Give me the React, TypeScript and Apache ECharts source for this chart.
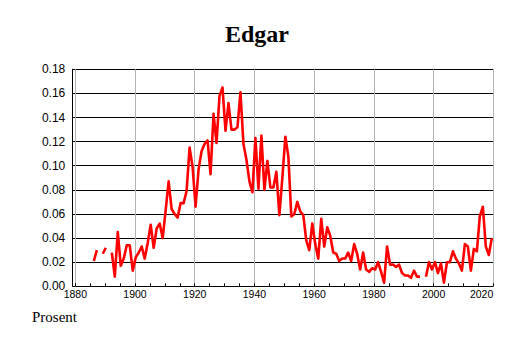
import React, { useEffect, useRef } from "react";
import * as echarts from "echarts";

const TITLE = "Edgar";
const UNIT_LABEL = "Prosent";
const START_YEAR = 1886;
// share (%) per year, null = no data
const VALUES: (number | null)[] = [
  0.021, 0.030, null, 0.027, 0.032, null, 0.028, 0.008, 0.045, 0.017,
  0.023, 0.034, 0.034, 0.013, 0.024, 0.028, 0.033, 0.023, 0.036, 0.051,
  0.032, 0.048, 0.052, 0.040, 0.063, 0.087, 0.064, 0.060, 0.057, 0.069,
  0.069, 0.079, 0.115, 0.099, 0.066, 0.097, 0.112, 0.118, 0.121, 0.093,
  0.143, 0.119, 0.158, 0.165, 0.129, 0.152, 0.130, 0.130, 0.132, 0.161,
  0.118, 0.105, 0.087, 0.078, 0.123, 0.081, 0.125, 0.080, 0.104, 0.082,
  0.082, 0.095, 0.059, 0.090, 0.124, 0.108, 0.058, 0.060, 0.070, 0.062,
  0.059, 0.038, 0.030, 0.052, 0.035, 0.023, 0.056, 0.033, 0.049, 0.042,
  0.028, 0.027, 0.021, 0.023, 0.023, 0.028, 0.021, 0.035, 0.027, 0.014,
  0.028, 0.014, 0.012, 0.015, 0.014, 0.020, 0.012, 0.003, 0.033, 0.018,
  0.018, 0.016, 0.018, 0.011, 0.009, 0.009, 0.007, 0.013, 0.008, 0.008,
  null, 0.008, 0.020, 0.014, 0.020, 0.011, 0.019, 0.003, 0.020, 0.020,
  0.029, 0.023, 0.019, 0.013, 0.035, 0.033, 0.013, 0.031, 0.029, 0.058,
  0.066, 0.033, 0.026, 0.040,
];
const X_TICK_MIN = 1880;
const X_TICK_MAX = 2020;
const X_TICK_STEP = 20;
const Y_MAX = 0.18;
const Y_STEP = 0.02;

export default function App() {
  const ref = useRef<HTMLDivElement>(null);
  useEffect(() => {
    document.body.style.margin = "0";
    if (!ref.current) return;
    const chart = echarts.init(ref.current, undefined, { renderer: "svg" });
    const data = VALUES.map((v, i) => [START_YEAR + i, v]);
    const gridPos = { top: 69.3, bottom: 56.7, right: 20.7 };
    chart.setOption({
      animation: false,
      backgroundColor: "#fff",
      title: {
        text: TITLE,
        left: "center",
        top: 17,
        textStyle: {
          fontFamily: "Liberation Serif",
          fontWeight: "bold",
          fontSize: 24,
          color: "#000",
        },
      },
      graphic: [
        {
          type: "text",
          left: 32,
          top: 309,
          style: {
            text: UNIT_LABEL,
            font: "15px 'Liberation Serif'",
            fill: "#000",
          },
        },
      ],
      grid: [
        { left: 72.3, ...gridPos },
        { left: 75.3, ...gridPos },
      ],
      xAxis: [
        {
          gridIndex: 0,
          type: "value",
          min: 1878.8,
          max: 2019.5,
          show: false,
        },
        {
          gridIndex: 1,
          type: "value",
          min: X_TICK_MIN,
          max: X_TICK_MAX,
          interval: X_TICK_STEP,
          axisLine: { show: false },
          axisTick: { show: true, inside: true, length: 3, lineStyle: { color: "#000" } },
          minorTick: { show: true, splitNumber: 4, length: 3, lineStyle: { color: "#000" } },
          splitLine: { show: true, lineStyle: { color: "#b4b4b4", width: 1 } },
          axisLabel: {
            margin: 2,
            fontSize: 10.5,
            fontFamily: "Liberation Sans",
            color: "#000",
            alignMaxLabel: "right",
            formatter: (v: number) => String(v),
          },
        },
      ],
      yAxis: [
        {
          gridIndex: 0,
          type: "value",
          min: 0,
          max: Y_MAX,
          interval: Y_STEP,
          axisLine: { show: true, lineStyle: { color: "#000" } },
          axisTick: { show: false },
          splitLine: { show: true, lineStyle: { color: "#000", width: 1 } },
          axisLabel: {
            margin: 7,
            fontSize: 12,
            fontFamily: "Liberation Sans",
            color: "#000",
            formatter: (v: number) => v.toFixed(2),
          },
        },
        { gridIndex: 1, type: "value", min: 0, max: 1, show: false },
      ],
      series: [
        {
          type: "line",
          xAxisIndex: 0,
          yAxisIndex: 0,
          data,
          showSymbol: false,
          connectNulls: false,
          lineStyle: { color: "#ff0000", width: 2.6, join: "round" },
          z: 5,
        },
      ],
    });
    return () => chart.dispose();
  }, []);
  return <div ref={ref} style={{ width: 514, height: 343 }} />;
}
